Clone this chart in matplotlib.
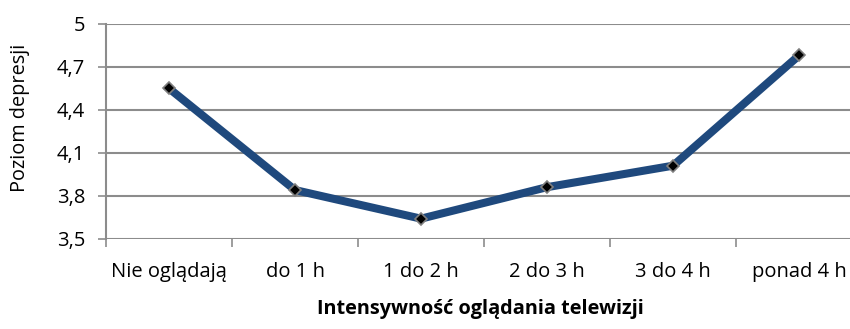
import matplotlib.pyplot as plt
import numpy as np

# Poziom depresji w zależności od czasu oglądania TV
kategorie = ["Nie oglądają", "do 1 h", "1 do 2 h", "2 do 3 h", "3 do 4 h", "ponad 4 h"]
depresja = [4.55, 3.84, 3.64, 3.86, 4.01, 4.78]
y_ticks = [3.5, 3.8, 4.1, 4.4, 4.7, 5.0]
y_labels = ["3,5", "3,8", "4,1", "4,4", "4,7", "5"]

plt.rcParams['font.family'] = ['Open Sans', 'DejaVu Sans']

fig = plt.figure(figsize=(8.5, 3.29), dpi=100)
ax = fig.add_axes([106 / 850, 1 - 238.7 / 329, 756 / 850, (238.7 - 24) / 329])

x = np.arange(len(kategorie))
ax.plot(x, depresja, color="#1F497D", linewidth=5.8, solid_joinstyle="miter", zorder=3)
ax.plot(x, depresja, linestyle="none", marker="D", markersize=6,
        markerfacecolor="black", markeredgecolor="#7f7f7f", markeredgewidth=1.2, zorder=4)

ax.set_xlim(-0.5, len(kategorie) - 0.5)
ax.set_ylim(3.5, 5.0)

ax.set_yticks(y_ticks)
ax.set_yticklabels(y_labels, fontsize=14.5)
ax.set_xticks(x)
ax.set_xticklabels(kategorie, fontsize=14.5)
ax.set_xticks(np.arange(len(kategorie) + 1) - 0.5, minor=True)

ax.grid(axis="y", color="#8c8c8c", linewidth=1.5, zorder=0)
ax.tick_params(axis="x", which="major", length=0, pad=17)
ax.tick_params(axis="x", which="minor", length=6, color="#8c8c8c", width=1.2)
ax.tick_params(axis="y", length=6, color="#8c8c8c", width=1.2, pad=9)

for s in ["top", "right", "bottom"]:
    ax.spines[s].set_visible(False)
ax.spines["left"].set_color("#8c8c8c")
ax.spines["left"].set_linewidth(1.5)

ax.set_ylabel("Poziom depresji", fontsize=14.3)
ax.yaxis.set_label_coords(-0.1, 0.565)
fig.text(480 / 850, 1 - 309 / 329, "Intensywność oglądania telewizji",
         fontsize=14.3, fontweight="bold", ha="center", va="center")

fig.savefig("out.png", dpi=100)
